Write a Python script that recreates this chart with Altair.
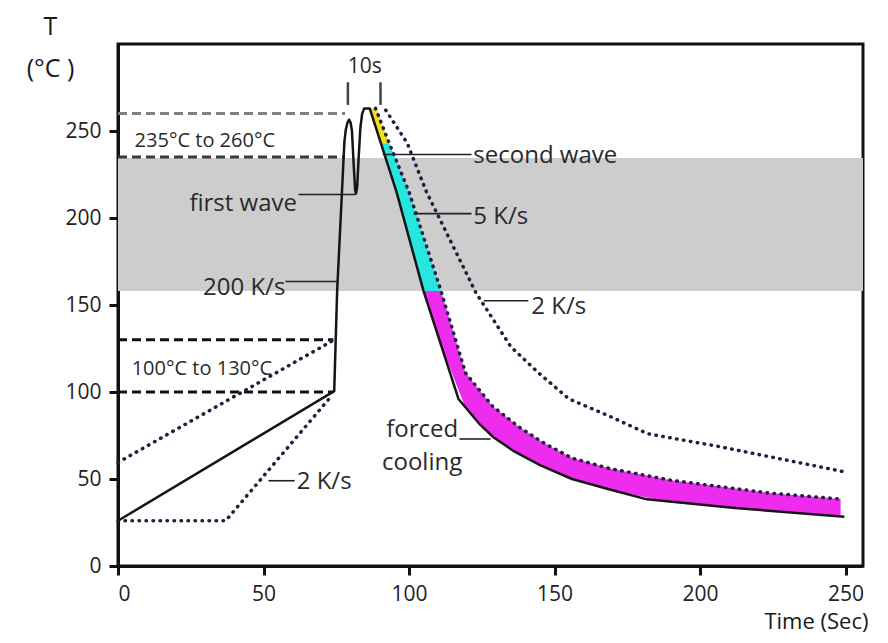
import altair as alt
import pandas as pd

# ---------------- data (time in s, temperature in °C) ----------------
profile_t = [0, 74.3, 75.3, 77.8, 78.3, 78.9, 79.4, 79.9, 80.4, 81.0, 81.5, 81.8, 82.2, 82.7,
             83.3, 83.9, 84.6, 86.5, 95.7, 105, 117, 124, 129, 136, 145, 156, 169, 181.8, 212, 249.6]
profile_T = [26, 100.5, 158, 244, 251, 255, 256.5, 255, 250, 230, 216, 214, 218, 235,
             252, 260, 263, 263, 215, 158, 96, 82, 74, 66, 58, 50, 44, 38.3, 33.3, 28.3]

pre_hi_t = [0, 74.3]
pre_hi_T = [59.5, 130]
pre_lo_t = [0, 37, 73]
pre_lo_T = [26, 26, 97]

cool_in_t = [88.5, 93.2, 100, 111, 119.4, 128.6, 137.7, 146, 156, 169, 189.6, 223.5, 248.3]
cool_in_T = [263, 243, 215, 158, 111, 92, 80, 71, 62, 56, 49.4, 42, 38.5]
cool_out_t = [92, 99.4, 106, 123, 135, 144.5, 155, 169, 182, 207, 250]
cool_out_T = [262, 243, 215, 157, 126, 111, 96, 86, 76, 68.5, 54]

dash_T = [260, 235, 130, 100]
dash_end = [78, 78, 74, 74]
dash_col = ["#808080", "#3a3a3a", "#111111", "#111111"]

yellow_T = [263, 243]
yellow_t0 = [86.2, 90.2]
yellow_t1 = [88.8, 93.2]
cyan_T = [243, 215, 158]
cyan_t0 = [90.2, 95.7, 105]
cyan_t1 = [93.2, 100, 111]
mag_t = [105, 111, 119.4, 128.6, 137.7, 146, 156, 169, 189.6, 223.5, 248.3]
mag_lo = [158, 127, 91, 75, 64, 57, 50, 44, 36.5, 31.5, 28.3]
mag_hi = [158, 158, 111, 92, 80, 71, 62, 56, 49.4, 42, 38.5]

gray_band = [158, 234.5]

ptr_t0 = [62, 91, 101.5, 57.5, 125.7, 51.7, 117.3]
ptr_t1 = [81.5, 121.5, 121.5, 75.5, 141, 60.7, 128]
ptr_T = [213.5, 236.5, 202.5, 163.5, 152.4, 49, 73]

tens_t = [79, 90.2]
tens_T0 = [265, 265]
tens_T1 = [278, 278]

left_txt = ["second wave", "5 K/s", "2 K/s", "2 K/s"]
left_t = [122.1, 122.1, 142, 61.4]
left_T = [235.5, 200.5, 149, 48.5]
right_txt = ["first wave", "200 K/s"]
right_t = [61.5, 57.5]
right_T = [208, 160]
mid_txt = ["forced", "cooling"]
mid_t = [104.5, 104.5]
mid_T = [78, 59]
range_txt = ["235°C to 260°C", "100°C to 130°C"]
range_t = [5.7, 4.7]
range_T = [244, 113.5]
tens_txt = ["10s"]
tens_lt = [84.8]
tens_lT = [287]

x_ticks = [0, 50, 100, 150, 200, 250]
y_ticks = [0, 50, 100, 150, 200, 250]

# ---------------- scales / axes ----------------
FONT = "Open Sans"
xs = alt.Scale(domain=[0, 256], nice=False, zero=False)
ys = alt.Scale(domain=[0, 300], nice=False, zero=False)
xax = alt.Axis(values=x_ticks, title="Time (Sec)", grid=False, titleAngle=0,
               titleX=750, titleY=62, titleAlign="right", titleBaseline="alphabetic",
               titleFont=FONT, titleFontSize=22, titleFontWeight="normal", titleColor="#1a1a1a")
yax = alt.Axis(values=y_ticks, title=["T", "(°C )"], grid=False, titleAngle=0,
               titleX=-68, titleY=-10, titleAlign="center", titleBaseline="alphabetic",
               titleLineHeight=42, titleFont=FONT, titleFontSize=25,
               titleFontWeight="normal", titleColor="#1a1a1a")


def X(f):
    return alt.X(f, type="quantitative", scale=xs, axis=xax)


def Y(f):
    return alt.Y(f, type="quantitative", scale=ys, axis=yax)


# ---------------- layers ----------------
gray = alt.Chart(pd.DataFrame({"t0": [0], "t1": [256], "T0": [gray_band[0]], "T1": [gray_band[1]]})
                 ).mark_rect(color="#cdcdcd").encode(x=X("t0"), x2="t1", y=Y("T0"), y2="T1")

yellow = alt.Chart(pd.DataFrame({"T": yellow_T, "t0": yellow_t0, "t1": yellow_t1})).mark_area(
    orient="horizontal", color="#f2de1f").encode(y=Y("T"), x=X("t0"), x2="t1")
cyan = alt.Chart(pd.DataFrame({"T": cyan_T, "t0": cyan_t0, "t1": cyan_t1})).mark_area(
    orient="horizontal", color="#26e6df").encode(y=Y("T"), x=X("t0"), x2="t1")
magenta = alt.Chart(pd.DataFrame({"t": mag_t, "lo": mag_lo, "hi": mag_hi})).mark_area(
    color="#ee2cee").encode(x=X("t"), y=Y("lo"), y2="hi")

dashes = alt.Chart(pd.DataFrame({"T": dash_T, "t0": [0] * 4, "t1": dash_end, "c": dash_col})).mark_rule(
    strokeDash=[9, 5], strokeWidth=3).encode(
    x=X("t0"), x2="t1", y=Y("T"), color=alt.Color("c:N", scale=None))

dot_rows = []
for name, ts, Ts in [("pre_hi", pre_hi_t, pre_hi_T), ("pre_lo", pre_lo_t, pre_lo_T),
                     ("cool_in", cool_in_t, cool_in_T), ("cool_out", cool_out_t, cool_out_T)]:
    for i, (a, b) in enumerate(zip(ts, Ts)):
        dot_rows.append({"s": name, "i": i, "t": a, "T": b})
dots = alt.Chart(pd.DataFrame(dot_rows)).mark_line(
    strokeDash=[0.5, 6.5], strokeCap="round", strokeWidth=3.5, color="#1f1f3f").encode(
    x=X("t"), y=Y("T"), detail="s:N", order="i:Q")

prof = alt.Chart(pd.DataFrame({"t": profile_t, "T": profile_T, "i": list(range(len(profile_t)))})
                 ).mark_line(color="#151515", strokeWidth=2.5, strokeJoin="round").encode(
    x=X("t"), y=Y("T"), order="i:Q")

ptrs = alt.Chart(pd.DataFrame({"t0": ptr_t0, "t1": ptr_t1, "T": ptr_T})).mark_rule(
    color="#222222", strokeWidth=1.6).encode(x=X("t0"), x2="t1", y=Y("T"))
tens = alt.Chart(pd.DataFrame({"t": tens_t, "T0": tens_T0, "T1": tens_T1})).mark_rule(
    color="#444444", strokeWidth=2.5).encode(x=X("t"), y=Y("T0"), y2="T1")


def texts(txt, ts, Ts, align, size):
    return alt.Chart(pd.DataFrame({"txt": txt, "t": ts, "T": Ts})).mark_text(
        align=align, baseline="middle", font=FONT, fontSize=size, color="#2a2a2a").encode(
        x=X("t"), y=Y("T"), text="txt:N")


t_left = texts(left_txt, left_t, left_T, "left", 24)
t_right = texts(right_txt, right_t, right_T, "right", 24)
t_mid = texts(mid_txt, mid_t, mid_T, "center", 24)
t_range = texts(range_txt, range_t, range_T, "left", 20)
t_tens = texts(tens_txt, tens_lt, tens_lT, "center", 21)

chart = alt.layer(
    gray, yellow, cyan, magenta, dashes, dots, prof, ptrs, tens,
    t_left, t_right, t_mid, t_range, t_tens
).properties(
    width=745, height=522,
    autosize=alt.AutoSizeParams(type="none"),
    padding={"left": 110, "top": 36, "right": 7, "bottom": 68},
    background="white",
).configure_view(
    stroke="#111111", strokeWidth=3
).configure_axis(
    domainColor="#111111", domainWidth=3, tickColor="#111111", tickWidth=3, tickSize=9,
    labelFont=FONT, labelFontSize=21, labelColor="#222222", labelPadding=8
)

chart.save("out.html", embed_options={"renderer": "svg", "actions": False})
